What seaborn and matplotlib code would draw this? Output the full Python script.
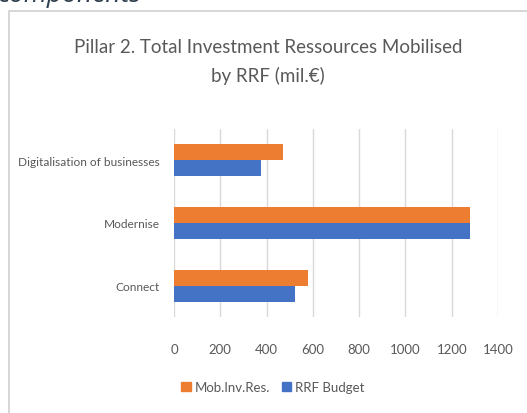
import pandas as pd
import seaborn as sns
import matplotlib.pyplot as plt
from matplotlib.patches import Rectangle

# Data (mil. EUR)
categories = ['Digitalisation of businesses', 'Modernise', 'Connect']
mob_inv_res = [473, 1279, 580]
rrf_budget = [375, 1279, 522]
series_names = ['Mob.Inv.Res.', 'RRF Budget']
x_ticks = [0, 200, 400, 600, 800, 1000, 1200, 1400]

df = pd.DataFrame({
    'Component': categories * 2,
    'Value': mob_inv_res + rrf_budget,
    'Series': [series_names[0]] * 3 + [series_names[1]] * 3,
})

sns.set_style('white')
plt.rcParams['font.family'] = ['Lato', 'DejaVu Sans']
grey = '#595959'

fig = plt.figure(figsize=(5.27, 4.14), dpi=100)
W, H = 527, 414
ax = fig.add_axes([174 / W, 1 - 318 / H, 324 / W, 188 / H])

sns.barplot(data=df, x='Value', y='Component', hue='Series', orient='h',
            order=categories, hue_order=series_names,
            palette=['#ED7D31', '#4472C4'], width=0.51, saturation=1,
            linewidth=0, ax=ax, legend=False)

ax.set_xlim(0, 1400)
ax.set_xticks(x_ticks)
ax.set_xticklabels([str(t) for t in x_ticks], fontsize=9.5, color=grey)
ax.tick_params(axis='y', labelsize=8.6, labelcolor=grey, length=0, pad=10)
ax.tick_params(axis='x', length=0, pad=19)
ax.xaxis.grid(True, color='#D9D9D9', linewidth=1)
ax.set_axisbelow(True)
ax.set_xlabel('')
ax.set_ylabel('')
for s in ax.spines.values():
    s.set_visible(False)

# title
fig.text(268 / W, 1 - 62 / H, 'Pillar 2. Total Investment Ressources Mobilised\nby RRF (mil.\u20ac)',
         ha='center', va='center', fontsize=13.5, color=grey, linespacing=1.75)

# legend
handles = [Rectangle((0, 0), 1, 1, color=c) for c in ['#ED7D31', '#4472C4']]
fig.legend(handles, series_names, loc='center', bbox_to_anchor=(273 / W, 1 - 388 / H),
           ncol=2, frameon=False, fontsize=9.5, labelcolor=grey,
           handlelength=0.7, handleheight=0.7, handletextpad=0.3, columnspacing=0.9)

# frame of the embedded chart and clipped heading above it
fig.add_artist(Rectangle((9 / W, -0.05), 1.1, 1 - 12 / H + 0.05, transform=fig.transFigure,
                         fill=False, edgecolor='#D0D0D0', linewidth=1.2))
fig.text(-2 / W, 1 - 2 / H, 'components', ha='left', va='baseline', fontsize=19,
         style='italic', color='#2F3E4E', family=['Open Sans', 'DejaVu Sans'])

fig.savefig('out.png', dpi=100)
